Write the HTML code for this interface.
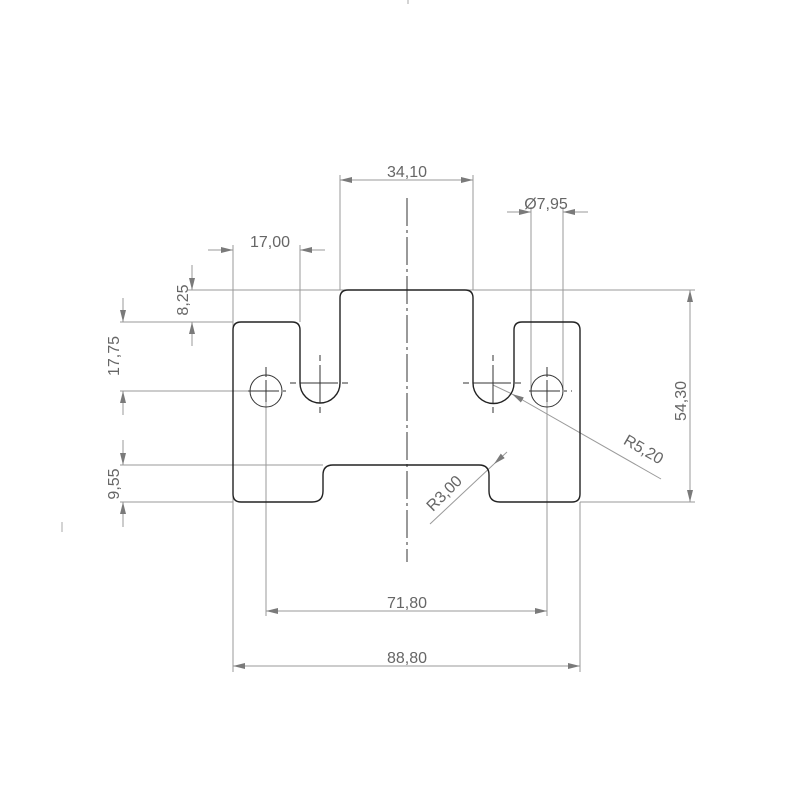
<!DOCTYPE html>
<html><head><meta charset="utf-8"><style>
html,body{margin:0;padding:0;background:#fff;}
svg{display:block;}
text{font-family:"Liberation Sans",sans-serif;font-size:16px;fill:#666;}
</style></head><body>
<svg width="800" height="800" viewBox="0 0 800 800" xmlns="http://www.w3.org/2000/svg">
<defs>
<marker id="a" viewBox="0 0 12 6" refX="12" refY="3" markerWidth="12" markerHeight="6" orient="auto-start-reverse" markerUnits="userSpaceOnUse">
<path d="M0,0 L12,3 L0,6 Z" fill="#7a7a7a"/></marker>
</defs>
<g stroke="#9a9a9a" stroke-width="1" fill="none">
<line x1="340" y1="175" x2="340" y2="290"/>
<line x1="473" y1="175" x2="473" y2="290"/>
<line x1="531" y1="207" x2="531" y2="391"/>
<line x1="563" y1="207" x2="563" y2="391"/>
<line x1="233" y1="245" x2="233" y2="672"/>
<line x1="300" y1="245" x2="300" y2="322"/>
<line x1="580" y1="502" x2="580" y2="672"/>
<line x1="266" y1="391" x2="266" y2="616"/>
<line x1="547" y1="391" x2="547" y2="616"/>
<line x1="188" y1="290" x2="695" y2="290"/>
<line x1="120" y1="322" x2="233" y2="322"/>
<line x1="120" y1="391" x2="250" y2="391"/>
<line x1="120" y1="465" x2="323" y2="465"/>
<line x1="120" y1="502" x2="233" y2="502"/>
<line x1="580" y1="502" x2="695" y2="502"/>
<line x1="340" y1="180" x2="473" y2="180" marker-start="url(#a)" marker-end="url(#a)"/>
<line x1="507" y1="212" x2="531" y2="212" marker-end="url(#a)"/>
<line x1="588" y1="212" x2="563" y2="212" marker-end="url(#a)"/>
<line x1="208" y1="250" x2="233" y2="250" marker-end="url(#a)"/>
<line x1="325" y1="250" x2="300" y2="250" marker-end="url(#a)"/>
<line x1="192" y1="265" x2="192" y2="290" marker-end="url(#a)"/>
<line x1="192" y1="346" x2="192" y2="322" marker-end="url(#a)"/>
<line x1="123" y1="298" x2="123" y2="322" marker-end="url(#a)"/>
<line x1="123" y1="415" x2="123" y2="391" marker-end="url(#a)"/>
<line x1="123" y1="440" x2="123" y2="465" marker-end="url(#a)"/>
<line x1="123" y1="527" x2="123" y2="502" marker-end="url(#a)"/>
<line x1="690" y1="290" x2="690" y2="502" marker-start="url(#a)" marker-end="url(#a)"/>
<line x1="266" y1="611" x2="547" y2="611" marker-start="url(#a)" marker-end="url(#a)"/>
<line x1="233" y1="666" x2="580" y2="666" marker-start="url(#a)" marker-end="url(#a)"/>
<line x1="661" y1="479" x2="512" y2="394" marker-end="url(#a)"/>
<line x1="493" y1="385" x2="512" y2="394"/>
<line x1="430" y1="524" x2="494" y2="464"/>
<line x1="507" y1="452" x2="494" y2="464" marker-end="url(#a)"/>
</g>
<g stroke="#333" stroke-width="1" fill="none">
<line x1="407" y1="198" x2="407" y2="562" stroke-dasharray="28,4,3,4"/>
<g stroke-dasharray="10,4,3,4">
<line x1="248" y1="391" x2="290" y2="391"/><line x1="266" y1="367" x2="266" y2="402"/>
<line x1="529" y1="391" x2="572" y2="391"/><line x1="547" y1="367" x2="547" y2="402"/>
</g>
<path d="M290,383 h60 M320,355 v60 M463,383 h60 M493,355 v60" stroke-dasharray="6,4,12,4,6,4,12,4,6"/>
<circle cx="266" cy="391" r="16"/>
<circle cx="547" cy="391" r="16"/>
<line x1="255" y1="391" x2="277" y2="391"/>
<line x1="266" y1="380" x2="266" y2="402"/>
<line x1="536" y1="391" x2="558" y2="391"/>
<line x1="547" y1="380" x2="547" y2="402"/>
<line x1="309" y1="383" x2="331" y2="383"/>
<line x1="320" y1="372" x2="320" y2="394"/>
<line x1="482" y1="383" x2="504" y2="383"/>
<line x1="493" y1="372" x2="493" y2="394"/>
<path stroke-width="1.4" stroke="#222" d="M233,330 Q233,322 241,322 L292,322 Q300,322 300,330 L300,383 A20,20 0 0 0 340,383 L340,298 Q340,290 348,290 L465,290 Q473,290 473,298 L473,383 A20.5,20.5 0 0 0 514,383 L514,330 Q514,322 522,322 L572,322 Q580,322 580,330 L580,494 Q580,502 572,502 L500,502 Q489,502 489,491 L489,475 Q489,465 479,465 L333,465 Q323,465 323,475 L323,491 Q323,502 312,502 L241,502 Q233,502 233,494 Z"/>
</g>
<line x1="62" y1="522" x2="62" y2="532" stroke="#aaa"/>
<line x1="408" y1="0" x2="408" y2="4" stroke="#aaa"/>
<text x="407" y="177" text-anchor="middle">34,10</text>
<text x="546" y="209" text-anchor="middle">Ø7,95</text>
<text x="270" y="247" text-anchor="middle">17,00</text>
<text transform="translate(188,300) rotate(-90)" text-anchor="middle">8,25</text>
<text transform="translate(119,356) rotate(-90)" text-anchor="middle">17,75</text>
<text transform="translate(119,484) rotate(-90)" text-anchor="middle">9,55</text>
<text transform="translate(686,401) rotate(-90)" text-anchor="middle">54,30</text>
<text x="407" y="608" text-anchor="middle">71,80</text>
<text x="407" y="663" text-anchor="middle">88,80</text>
<text transform="translate(641,454) rotate(30)" text-anchor="middle">R5,20</text>
<text transform="translate(448,497) rotate(-45)" text-anchor="middle">R3,00</text>
</svg>
</body></html>
